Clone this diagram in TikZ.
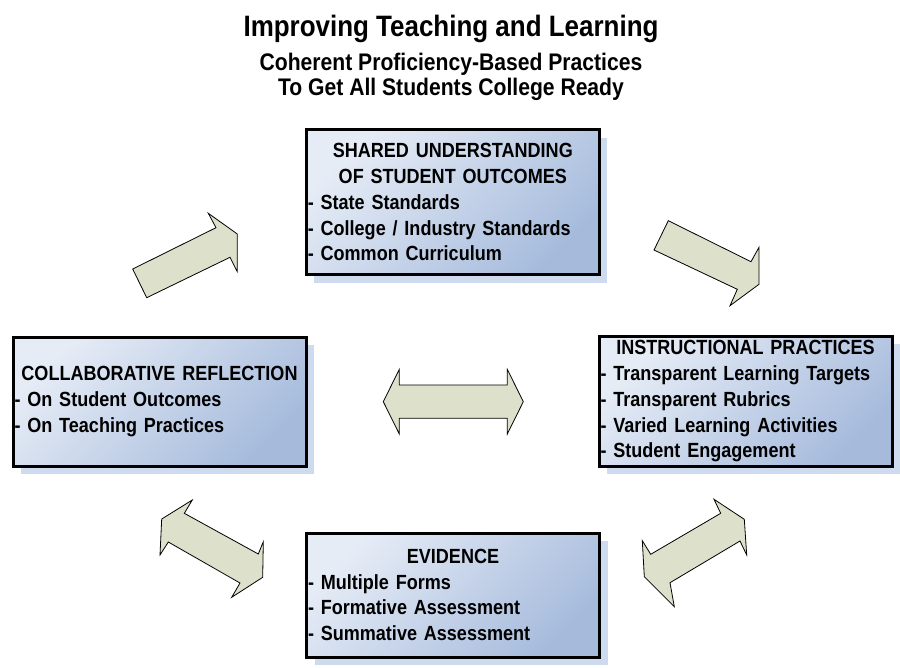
\documentclass[tikz,border=0pt]{standalone}
\usepackage{fontspec}
\setmainfont[FakeStretch=0.88]{Liberation Sans}
\usetikzlibrary{shadows}

\definecolor{boxlight}{RGB}{230,236,246}
\definecolor{boxdark}{RGB}{166,187,220}
\definecolor{shadowblue}{RGB}{206,218,237}
\definecolor{arrowgreen}{RGB}{221,225,203}

\newcommand{\bline}[1]{\makebox[290pt][l]{- #1}}

\begin{document}
\begin{tikzpicture}[
			x=1pt, y=-1pt,
			box/.style={rectangle, draw=black, line width=3pt, top color=boxlight, bottom color=boxdark, shading angle=45,
				drop shadow={shadow xshift=8pt, shadow yshift=-8pt, fill=shadowblue, opacity=1},
				minimum width=293pt, text width=290pt, inner xsep=1.5pt, inner ysep=0pt, align=center,
				font=\bfseries\fontsize{20.5}{25.8}\selectfont},
			headline/.style={anchor=base, font=\bfseries\fontsize{24}{26}\selectfont},
			blockarrow/.style={draw=black, fill=arrowgreen, line width=0.8pt, line join=miter},
		]
			\useasboundingbox (0,0) rectangle (900,667);
		
			%Title
			\node[headline, font=\bfseries\fontsize{29.5}{32}\selectfont]	(title)	at (451,36)	{Improving Teaching and Learning};
			\node[headline]	(subtitle)	at (451,70)	{Coherent Proficiency-Based Practices};
			\node[headline]	(subtitle2)	at (451,95)	{To Get All Students College Ready};
		
			%Nodes
			\node[box, minimum height=145pt]	(outcomes)	at (452.8,202.2)	{SHARED UNDERSTANDING\\OF STUDENT OUTCOMES\\\bline{State Standards}\\\bline{College / Industry Standards}\\\bline{Common Curriculum}};
			\node[box, minimum height=129pt]	(reflection)	at (159.5,401.5)	{COLLABORATIVE REFLECTION\\\bline{On Student Outcomes}\\\bline{On Teaching Practices}};
			\node[box, minimum height=130pt]	(practices)	at (745.5,401.3)	{INSTRUCTIONAL PRACTICES\\\bline{Transparent Learning Targets}\\\bline{Transparent Rubrics}\\\bline{Varied Learning Activities}\\\bline{Student Engagement}};
			\node[box, minimum height=124pt]	(evidence)	at (453,595)	{EVIDENCE\\\bline{Multiple Forms}\\\bline{Formative Assessment}\\\bline{Summative Assessment}};
		
			%Arrows
			\draw[blockarrow]	(132.7,269) -- (216,227.7) -- (208.3,213.3) -- (237.3,234) -- (237.3,271.7) -- (230,257.3) -- (146.7,297.7) -- cycle;
			\draw[blockarrow]	(668.3,220.7) -- (751,261.7) -- (759,247.3) -- (759,284.3) -- (730,305.7) -- (737.3,289.3) -- (654,250) -- cycle;
			\draw[blockarrow]	(383.3,401.7) -- (399.3,369.3) -- (399.3,385) -- (507.3,385) -- (507.3,369.3) -- (523.3,401.7) -- (507.3,434) -- (507.3,418.3) -- (399.3,418.3) -- (399.3,434) -- cycle;
			\draw[blockarrow]	(161.7,519) -- (192.3,500) -- (184.3,513.3) -- (258.3,554) -- (263.3,541.7) -- (262.7,577.3) -- (231.7,597.3) -- (240,583) -- (168.3,542) -- (160,555) -- cycle;
			\draw[blockarrow]	(642.3,540.7) -- (650.7,554.3) -- (720.7,513.3) -- (714,499.3) -- (744.3,519.3) -- (746.7,555) -- (740,541) -- (670,582.7) -- (674.3,606.7) -- (644.3,576.7) -- cycle;
		
		\end{tikzpicture}
\end{document}
